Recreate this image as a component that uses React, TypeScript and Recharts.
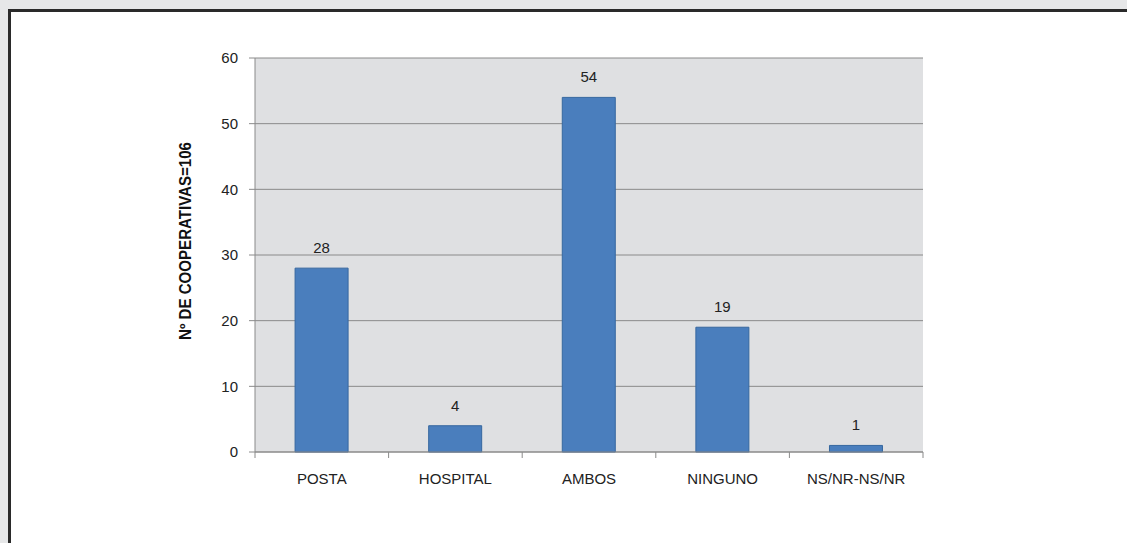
import { BarChart, Bar, XAxis, YAxis, CartesianGrid, LabelList } from 'recharts';

const categories = ['POSTA', 'HOSPITAL', 'AMBOS', 'NINGUNO', 'NS/NR-NS/NR'];
const cooperativas = [28, 4, 54, 19, 1];
const yTicks = [0, 10, 20, 30, 40, 50, 60];
const yTitle = 'Nº DE COOPERATIVAS=106';

const data = categories.map((name, i) => ({ name, value: cooperativas[i] }));

const W = 1127;
const H = 543;
const MARGIN = { top: 58, right: 204, left: 0, bottom: 61 };
const Y_AXIS_W = 255;
const PLOT_W = W - MARGIN.right - MARGIN.left - Y_AXIS_W;

const FONT = "'Liberation Sans', Arial, sans-serif";
const NARROW = "'Liberation Sans Narrow', 'Arial Narrow', 'Liberation Sans', sans-serif";
const AXIS_GRAY = '#8a8a8a';
const TICK_SIZE = 6;
const TICK_MARGIN = 15;
const FS = 15;

// category ticks sit on band boundaries, like Excel
function CategoryTick(props: any) {
  const { x, y, payload, index } = props;
  const axisY = y - TICK_SIZE - TICK_MARGIN;
  const half = payload.offset || PLOT_W / categories.length / 2;
  return (
    <g>
      <line x1={x - half} x2={x - half} y1={axisY} y2={axisY + TICK_SIZE} stroke={AXIS_GRAY} />
      {index === categories.length - 1 && (
        <line x1={x + half} x2={x + half} y1={axisY} y2={axisY + TICK_SIZE} stroke={AXIS_GRAY} />
      )}
      <text x={x} y={y} dy="0.71em" textAnchor="middle" fill="#222" fontSize={FS} fontFamily={FONT}>
        {payload.value}
      </text>
    </g>
  );
}

function YTitle() {
  return (
    <text
      x={185}
      y={241}
      transform="rotate(-90 185 241)"
      textAnchor="middle"
      dominantBaseline="central"
      fontFamily={NARROW}
      fontWeight="bold"
      fontSize={16}
      fill="#111"
      textLength={198}
      lengthAdjust="spacingAndGlyphs"
    >
      {yTitle}
    </text>
  );
}

export default function App() {
  return (
    <div style={{ position: 'absolute', left: 0, top: 0, width: W, height: H, background: '#e6e7e8', overflow: 'hidden' }}>
      <div
        style={{
          position: 'absolute',
          left: 8,
          top: 9,
          width: 1200,
          height: 700,
          background: '#fff',
          border: '3px solid #2a2a2a',
        }}
      />
      <div style={{ position: 'absolute', left: 0, top: 0 }}>
        <BarChart width={W} height={H} data={data} margin={MARGIN} barCategoryGap="30%">
          <CartesianGrid vertical={false} fill="#dfe0e2" stroke={AXIS_GRAY} fillOpacity={1} />
          <XAxis
            dataKey="name"
            height={30}
            tickSize={TICK_SIZE}
            tickMargin={TICK_MARGIN}
            tickLine={{ stroke: 'none' }}
            axisLine={{ stroke: AXIS_GRAY }}
            tick={<CategoryTick />}
            interval={0}
          />
          <YAxis
            width={Y_AXIS_W}
            domain={[0, 60]}
            ticks={yTicks}
            tickSize={TICK_SIZE}
            tickMargin={11}
            tickLine={{ stroke: AXIS_GRAY }}
            axisLine={{ stroke: AXIS_GRAY }}
            tick={{ fill: '#222', fontSize: FS, fontFamily: FONT }}
            label={{ content: () => <YTitle /> }}
          />
          <Bar dataKey="value" fill="#4a7ebd" stroke="#36679f" strokeWidth={1} isAnimationActive={false}>
            <LabelList dataKey="value" position="top" offset={15} fill="#222" fontSize={FS} fontFamily={FONT} />
          </Bar>
        </BarChart>
      </div>
    </div>
  );
}
